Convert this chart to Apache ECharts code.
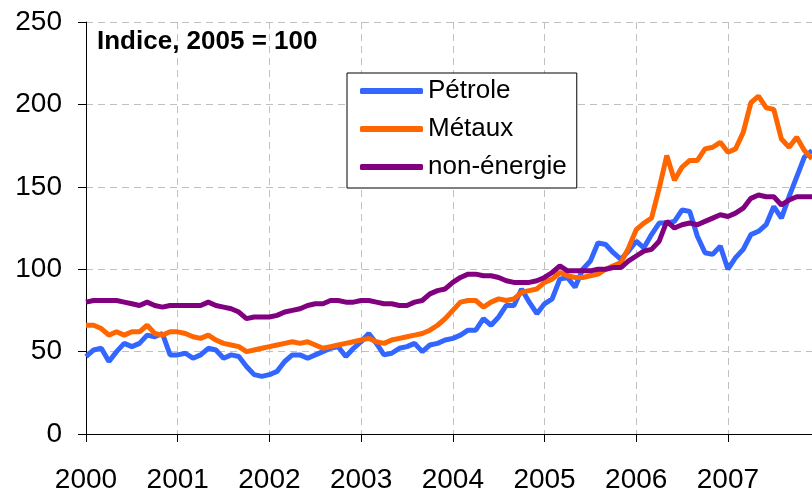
<!DOCTYPE html>
<html>
<head>
<meta charset="utf-8">
<script src="https://cdn.jsdelivr.net/npm/echarts@6/dist/echarts.min.js"></script>
<style>
html,body{margin:0;padding:0;background:#fff;}
#main{width:812px;height:494px;}
</style>
</head>
<body>
<div id="main"></div>
<script>
// mensuel, janv. 2000 - déc. 2007
var years = ['2000','2001','2002','2003','2004','2005','2006','2007'];
var months = [];
years.forEach(function(y){
	for (var m = 1; m <= 12; m++) months.push(y + '-' + (m < 10 ? '0' + m : m));
});

var petrole = [47,51,52,44,50,55,53,55,60,59,61,48,
	48,49,46,48,52,51,46,48,47,41,36,35,
	36,38,44,48,48,46,48,50,52,53,47,52,
	56,61,55,48,49,52,53,55,50,54,55,57,
	58,60,63,63,70,66,71,78,78,88,80,73,
	79,82,94,95,89,100,105,116,115,110,106,111,
	117,113,121,128,128,129,136,135,120,110,109,114,
	100,107,112,121,123,127,138,131,144,156,168,172];

var metaux = [66,66,64,60,62,60,62,62,66,61,60,62,
	62,61,59,58,60,57,55,54,53,50,51,52,
	53,54,55,56,55,56,54,52,53,54,55,56,
	57,58,56,55,57,58,59,60,61,63,66,70,
	75,80,81,81,77,80,82,81,82,86,87,88,
	92,94,98,96,95,95,96,97,100,102,104,113,
	124,128,131,149,169,154,162,166,166,173,174,177,
	171,173,183,201,205,198,197,179,174,180,172,167];

var nonEnergie = [80,81,81,81,81,80,79,78,80,78,77,78,
	78,78,78,78,80,78,77,76,74,70,71,71,
	71,72,74,75,76,78,79,79,81,81,80,80,
	81,81,80,79,79,78,78,80,81,85,87,88,
	92,95,97,97,96,96,95,93,92,92,92,93,
	95,98,102,99,99,99,99,100,100,101,101,105,
	108,111,112,117,129,125,127,128,127,129,131,133,
	132,134,137,143,145,144,144,139,142,144,144,144];

var chart = echarts.init(document.getElementById('main'));
var font = 'Liberation Sans, Arial, sans-serif';
var janvier = function(i){return i % 12 === 0;};
var pointilles = {color:'#c0c0c0', type:[7,5], width:1};

var option = {
	backgroundColor:'#fff',
	animation:false,
	textStyle:{fontFamily:font},
	title:{
		text:'Indice, 2005 = 100',
		left:97, top:29, padding:0,
		textStyle:{fontFamily:font, fontSize:26, fontWeight:'bold', color:'#000'}
	},
	legend:{
		orient:'vertical',
		left:347, top:73,
		padding:[5,10,8,13],
		itemGap:12,
		itemWidth:63, itemHeight:6,
		icon:'roundRect',
		borderColor:'#000', borderWidth:1,
		backgroundColor:'#fff',
		textStyle:{fontFamily:font, fontSize:26, color:'#000'},
		data:['Pétrole','Métaux','non-énergie']
	},
	grid:{left:86, right:0, top:22, bottom:55},
	xAxis:{
		type:'category',
		boundaryGap:false,
		data:months,
		axisLine:{lineStyle:{color:'#000', width:1}},
		axisTick:{length:8, interval:janvier, lineStyle:{color:'#000'}},
		axisLabel:{
			interval:janvier,
			formatter:function(v){return v.slice(0,4);},
			fontFamily:font, fontSize:28, color:'#000', margin:32
		},
		splitLine:{show:true, interval:janvier, lineStyle:pointilles}
	},
	yAxis:{
		type:'value',
		min:0, max:250, interval:50,
		axisLine:{show:true, lineStyle:{color:'#000', width:1}},
		axisTick:{show:true, length:8, lineStyle:{color:'#000'}},
		axisLabel:{fontFamily:font, fontSize:28, color:'#000', margin:24},
		splitLine:{show:true, lineStyle:pointilles}
	},
	series:[
		{name:'Pétrole', type:'line', data:petrole, showSymbol:false, color:'#3366ff', lineStyle:{width:5, color:'#3366ff'}},
		{name:'Métaux', type:'line', data:metaux, showSymbol:false, color:'#ff6600', lineStyle:{width:5, color:'#ff6600'}},
		{name:'non-énergie', type:'line', data:nonEnergie, showSymbol:false, color:'#800080', lineStyle:{width:5, color:'#800080'}}
	]
};
chart.setOption(option);
</script>
</body>
</html>
